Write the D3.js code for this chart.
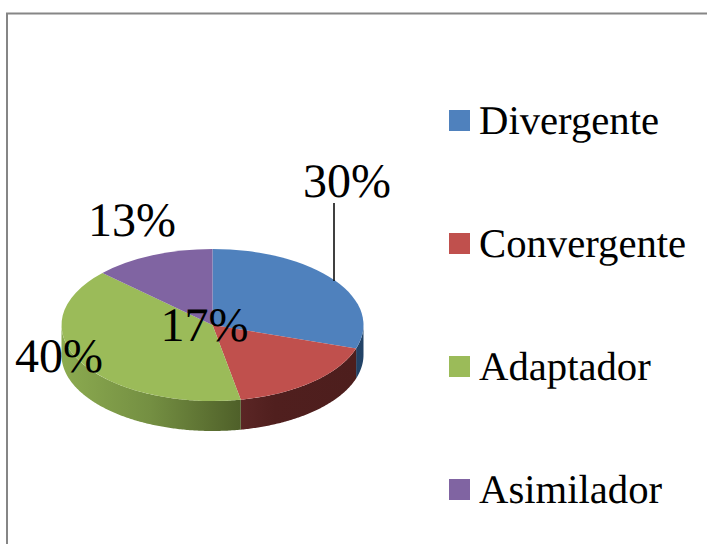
<!DOCTYPE html>
<html>
<head>
<meta charset="utf-8">
<title>Estilos de aprendizaje</title>
<script src="https://d3js.org/d3.v7.min.js"></script>
<style>
  html, body { margin: 0; padding: 0; background: #fff; overflow: hidden; }
  text { font-family: "Liberation Serif", serif; fill: #000; text-rendering: geometricPrecision; }
</style>
</head>
<body>
<div id="chart"></div>
<script>
var categories = ["Divergente", "Convergente", "Adaptador", "Asimilador"];
var values = [30, 17, 40, 13];
var labels = ["30%", "17%", "40%", "13%"];
var colors = ["#4f81bd", "#c0504d", "#9bbb59", "#8064a2"];

var width = 707, height = 544;
var rx = 151, ry = 76, depth = 30;
var cx = 212.5, cy = 325;

var svg = d3.select("#chart").append("svg")
  .attr("width", width)
  .attr("height", height)
  .style("display", "block");

// chart frame, only top and left show in the crop
svg.append("path")
  .attr("d", "M7,544V13.5H707")
  .attr("fill", "none")
  .attr("stroke", "#868686")
  .attr("stroke-width", 2);

var defs = svg.append("defs");
function wallGradient(id, x1, x2, stops) {
  var g = defs.append("linearGradient")
    .attr("id", id)
    .attr("gradientUnits", "userSpaceOnUse")
    .attr("x1", x1).attr("x2", x2)
    .attr("y1", 0).attr("y2", 0);
  stops.forEach(function (s) {
    g.append("stop").attr("offset", s[0]).attr("stop-color", s[1]);
  });
}
wallGradient("wall0", 340, 363, [[0, "#1d3a5c"], [1, "#234468"]]);
wallGradient("wall1", 240, 356, [[0, "#5b2625"], [0.3, "#501f1e"], [1, "#4d1e1d"]]);
wallGradient("wall2", 61, 240, [[0, "#8cab50"], [0.5, "#748f42"], [1, "#4f6029"]]);

var pie = d3.pie().sort(null).value(function (d) { return d; });
var slices = pie(values);

var x = d3.scaleLinear().domain([-1, 1]).range([cx - rx, cx + rx]);
var y = d3.scaleLinear().domain([-1, 1]).range([cy - ry, cy + ry]);

// side walls, only the part facing the viewer (quarter past to three quarters)
var wall = d3.area()
  .x(function (a) { return x(Math.sin(a)); })
  .y0(function (a) { return y(-Math.cos(a)); })
  .y1(function (a) { return y(-Math.cos(a)) + depth; });

slices.forEach(function (s, i) {
  var a0 = Math.max(s.startAngle, Math.PI / 2);
  var a1 = Math.min(s.endAngle, Math.PI * 1.5);
  if (a1 <= a0) return;
  var angles = d3.range(a0, a1, 0.01).concat([a1]);
  svg.append("path")
    .attr("d", wall(angles))
    .attr("fill", "url(#wall" + i + ")");
});

// top face, a normal pie squashed to the ellipse
var arc = d3.arc().innerRadius(0).outerRadius(rx);
svg.append("g")
  .attr("transform", "translate(" + cx + "," + cy + ") scale(1," + (ry / rx) + ")")
  .selectAll("path")
  .data(slices)
  .enter().append("path")
  .attr("d", arc)
  .attr("fill", function (d, i) { return colors[i]; });

// leader line for the 30% label
svg.append("line")
  .attr("x1", 334).attr("x2", 334)
  .attr("y1", 203).attr("y2", 281)
  .attr("stroke", "#000")
  .attr("stroke-width", 1.5);

var labelX = [303, 160.5, 15, 88];
var labelY = [197, 341, 372, 236];
svg.selectAll(".pct")
  .data(labels)
  .enter().append("text")
  .attr("class", "pct")
  .attr("x", function (d, i) { return labelX[i]; })
  .attr("y", function (d, i) { return labelY[i]; })
  .style("font-size", "48px")
  .text(function (d) { return d; });

// legend
var legendY = d3.scalePoint().domain(categories).range([120.5, 489.5]);
var legend = svg.selectAll(".legend")
  .data(categories)
  .enter().append("g")
  .attr("class", "legend")
  .attr("transform", function (d) { return "translate(449," + legendY(d) + ")"; });
legend.append("rect")
  .attr("x", 0).attr("y", -10.5)
  .attr("width", 21).attr("height", 21)
  .attr("fill", function (d, i) { return colors[i]; });
legend.append("text")
  .attr("x", 30).attr("y", 13)
  .style("font-size", "40.7px")
  .text(function (d) { return d; });
</script>
</body>
</html>
